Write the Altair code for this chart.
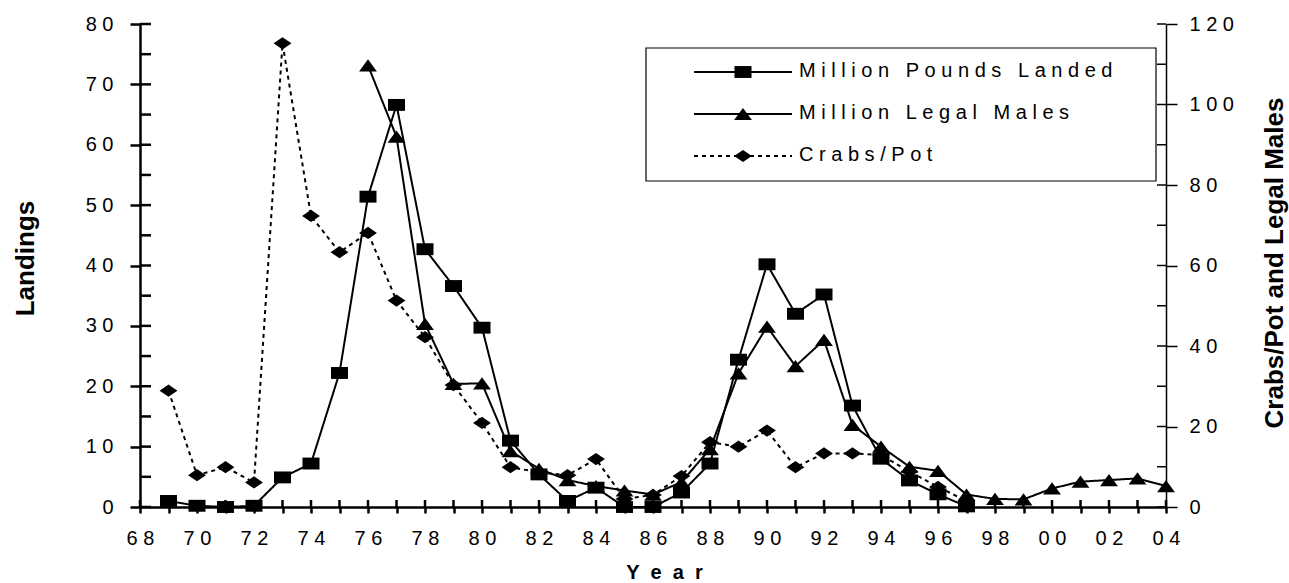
import altair as alt
import pandas as pd

# --- Series values -------------------------------------------------------
landed_years = list(range(1969, 1998))
pounds_landed = [1.0, 0.2, 0.0, 0.2, 4.9, 7.2, 22.2, 51.4, 66.6, 42.7, 36.6, 29.7,
                 11.0, 5.4, 1.0, 3.2, 0.0, 0.0, 2.4, 7.2, 24.4, 40.2, 32.0, 35.2,
                 16.8, 8.0, 4.4, 2.1, 0.1]

males_years = list(range(1976, 2005))
legal_males = [109.7, 92.0, 45.5, 30.6, 30.7, 13.9, 9.5, 6.7, 5.2, 4.1, 3.1, 6.2,
               14.4, 33.2, 44.8, 35.0, 41.5, 20.4, 15.0, 10.0, 9.0, 3.1, 2.0, 1.9,
               4.6, 6.3, 6.7, 7.1, 5.2]

cpue_years = list(range(1969, 1998))
crabs_per_pot = [28.9, 7.9, 9.9, 6.1, 115.2, 72.3, 63.3, 68.1, 51.3, 42.2, 30.3, 20.9,
                 9.9, 8.6, 7.9, 11.9, 2.0, 3.0, 7.7, 16.1, 15.0, 19.0, 9.9, 13.3,
                 13.3, 12.9, 8.8, 5.0, 1.5]

SERIES = ["Million Pounds Landed", "Million Legal Males", "Crabs/Pot"]

# --- Tick positions --------------------------------------------------------
year_ticks = list(range(1968, 2005))
left_major = list(range(0, 81, 10))
left_all = list(range(0, 81, 5))
right_major = list(range(0, 121, 20))
right_all = list(range(0, 121, 10))

W, H = 1026, 483
FONT = "Liberation Sans"
SPACED = "join(split(datum.label, ''), ' ')"

# marker outlines: square, triangle, flattened diamond
SHAPES = ["M-1,-0.7H1V0.7H-1Z", "M0,-0.72L1.05,0.72L-1.05,0.72Z",
          "M-1.05,0L0,-0.72L1.05,0L0,0.72Z"]
DASHES = [[1, 0], [1, 0], [4, 4]]
WIDTHS = [2, 2, 2.6]

shape_enc = alt.Shape("series:N", scale=alt.Scale(domain=SERIES, range=SHAPES), legend=None)
dash_enc = alt.StrokeDash("series:N", scale=alt.Scale(domain=SERIES, range=DASHES), legend=None)
width_enc = alt.StrokeWidth("series:N", scale=alt.Scale(domain=SERIES, range=WIDTHS), legend=None)

x_enc = alt.X(
    "year:Q",
    scale=alt.Scale(domain=[1968, 2004], nice=False, zero=False),
    axis=alt.Axis(
        values=year_ticks, tickSize=6, tickWidth=2.5, domainWidth=2.5,
        labelPadding=15,
        labelExpr="datum.value % 2 == 0 ? join(split(slice(toString(datum.value), 2), ''), ' ') : ''",
        titleFontSize=20, titleFontWeight="bold", titleX=524, titleY=71,
        titleBaseline="alphabetic", titleAlign="center",
    ),
    title="\u00a0\u00a0".join("Year"),
)

left_y = alt.Y(
    "value:Q",
    scale=alt.Scale(domain=[0, 80], nice=False),
    axis=alt.Axis(
        orient="left", values=left_major, tickSize=10, tickWidth=2.5, domainWidth=2.5,
        labelPadding=17, labelExpr=SPACED,
        titleFontSize=26, titleFontWeight="bold", titleAngle=270,
        titleX=-107, titleY=234, titleBaseline="alphabetic", titleAlign="center",
    ),
    title="Landings",
)

right_y = alt.Y(
    "value:Q",
    scale=alt.Scale(domain=[0, 120], nice=False),
    axis=alt.Axis(
        orient="right", values=right_major, tickSize=11, tickWidth=1.5, domainWidth=1.5,
        labelPadding=12, labelExpr=SPACED,
        titleFontSize=26, titleFontWeight="bold", titleAngle=270,
        titleX=116, titleY=238.5, titleBaseline="alphabetic", titleAlign="center",
    ),
    title="Crabs/Pot and Legal Males",
)

# --- Data tables -----------------------------------------------------------
landed_df = pd.DataFrame({"year": landed_years, "value": pounds_landed, "series": SERIES[0]})
right_df = pd.concat([
    pd.DataFrame({"year": males_years, "value": legal_males, "series": SERIES[1]}),
    pd.DataFrame({"year": cpue_years, "value": crabs_per_pot, "series": SERIES[2]}),
], ignore_index=True)
year_df = pd.DataFrame({"year": year_ticks})
left_tick_df = pd.DataFrame({"value": left_all})
right_tick_df = pd.DataFrame({"value": right_all})
legend_df = pd.DataFrame({"series": SERIES, "row": [0, 1, 2]})

# --- Left-axis group: landings -------------------------------------------------
left_line = alt.Chart(landed_df).mark_line(color="black").encode(
    x=x_enc, y=left_y, strokeDash=dash_enc, strokeWidth=width_enc)
left_pts = alt.Chart(landed_df).mark_point(filled=True, color="black", size=289, opacity=1).encode(
    x=x_enc, y=left_y, shape=shape_enc)
left_inner = alt.Chart(left_tick_df).mark_rule(color="black", strokeWidth=2.5).encode(
    y=left_y, x=alt.value(0), x2=alt.value(11))
x_inner = alt.Chart(year_df).mark_rule(color="black", strokeWidth=2.5).encode(
    x=x_enc, y=alt.value(H - 7), y2=alt.value(H))
left_group = alt.layer(left_inner, x_inner, left_line, left_pts)

# --- Right-axis group: legal males and crabs per pot ---------------------------
right_line = alt.Chart(right_df).mark_line(color="black").encode(
    x=x_enc, y=right_y, strokeDash=dash_enc, strokeWidth=width_enc, detail="series:N")
right_pts = alt.Chart(right_df).mark_point(filled=True, color="black", size=289, opacity=1).encode(
    x=x_enc, y=right_y, shape=shape_enc)
right_inner = alt.Chart(right_tick_df).mark_rule(color="black", strokeWidth=1.5).encode(
    y=right_y, x=alt.value(W - 9), x2=alt.value(W))
right_group = alt.layer(right_inner, right_line, right_pts)

# --- Legend box ---------------------------------------------------------------
row_y = alt.Y("row:O", scale=alt.Scale(type="point", domain=[0, 1, 2], range=[48, 132], padding=0),
              axis=None)
leg_box = alt.Chart(legend_df).transform_filter("datum.row == 0").mark_rect(
    fill="white", stroke="black", strokeWidth=1.2).encode(
    x=alt.value(506), x2=alt.value(1016), y=alt.value(24), y2=alt.value(157))
leg_rule = alt.Chart(legend_df).mark_rule(color="black").encode(
    x=alt.value(554), x2=alt.value(652), y=row_y, strokeDash=dash_enc, strokeWidth=width_enc)
leg_pts = alt.Chart(legend_df).mark_point(filled=True, color="black", size=289, opacity=1).encode(
    x=alt.value(603), y=row_y, shape=shape_enc)
leg_text = alt.Chart(legend_df).transform_calculate(
    label="join(split(datum.series, ''), '\u00a0')"
).mark_text(align="left", baseline="middle", fontSize=20, font=FONT, color="black", dy=-1).encode(
    x=alt.value(659), y=row_y, text="label:N")
legend_group = alt.layer(leg_box, leg_rule, leg_pts, leg_text)

chart = alt.layer(left_group, right_group, legend_group).resolve_scale(
    y="independent"
).properties(
    width=W, height=H,
    padding={"left": 140, "top": 24, "right": 123, "bottom": 76},
    autosize=alt.AutoSizeParams(type="none"),
    background="white",
).configure_view(stroke=None).configure_axis(
    labelFont=FONT, labelFontSize=20, labelColor="black",
    titleFont=FONT, titleColor="black",
    grid=False, domainColor="black", tickColor="black",
    labelFlush=False, labelOverlap=False,
)

chart.save("out.html", embed_options={"renderer": "svg", "actions": False})
